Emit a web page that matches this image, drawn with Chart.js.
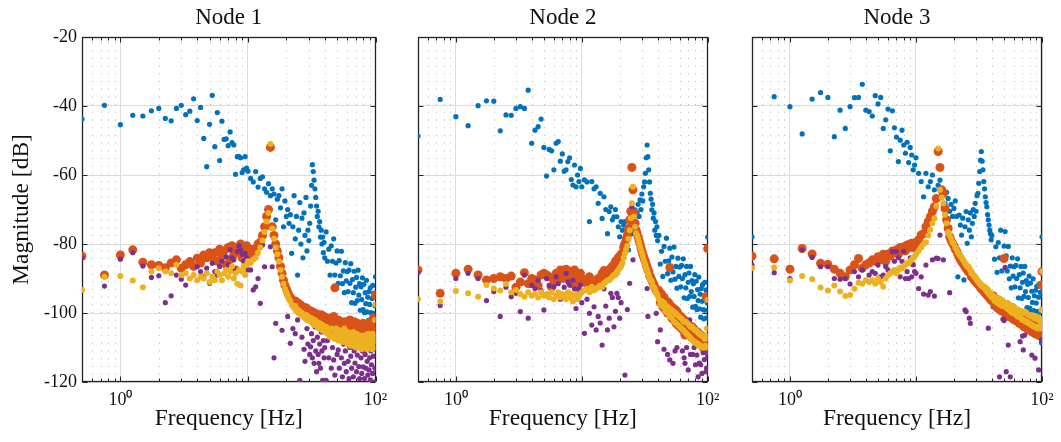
<!DOCTYPE html>
<html>
<head>
<meta charset="utf-8">
<script src="https://cdn.jsdelivr.net/npm/chart.js@4.4.1/dist/chart.umd.min.js"></script>
<style>
  body { margin: 0; background: #fff; }
  #wrap { position: relative; width: 1061px; height: 442px; }
  canvas { position: absolute; top: 0; }
</style>
</head>
<body>
<div id="wrap">
  <canvas id="node1" width="398" height="442" style="left:0px"></canvas>
  <canvas id="node2" width="332" height="442" style="left:398px"></canvas>
  <canvas id="node3" width="331" height="442" style="left:730px"></canvas>
</div>
<script>
// frequencies shared by every series [Hz]
var freq = [
  0.5, 0.75, 1, 1.25, 1.5, 1.75, 2, 2.25, 2.5, 2.75, 3, 3.25, 3.5, 3.75, 4, 4.25, 4.5, 4.75, 5,
  5.25, 5.5, 5.75, 6, 6.25, 6.5, 6.75, 7, 7.25, 7.5, 7.75, 8, 8.25, 8.5, 8.75, 9, 9.25, 9.5, 9.75, 10,
  10.5, 11, 11.5, 12, 12.5, 13, 13.5, 14, 14.5, 15, 15.5, 16, 16.5, 17, 17.5, 18, 18.5, 19, 19.5, 20,
  20.5, 21, 21.5, 22, 22.5, 23, 23.5, 24, 24.5, 25, 25.5, 26, 26.5, 27, 27.5, 28, 28.5, 29, 29.5, 30,
  30.5, 31, 31.5, 32, 32.5, 33, 33.5, 34, 34.5, 35, 35.5, 36, 36.5, 37, 37.5, 38, 38.5, 39, 39.5, 40,
  41, 42, 43, 44, 45, 46, 47, 48, 49, 50, 51, 52, 53, 54, 55, 56, 57, 58, 59, 60,
  61, 62, 63, 64, 65, 66, 67, 68, 69, 70, 71, 72, 73, 74, 75, 76, 77, 78, 79, 80,
  81, 82, 83, 84, 85, 86, 87, 88, 89, 90, 91, 92, 93, 94, 95, 96, 97, 98, 99, 100
];

// Node 1 magnitudes [dB]
var n1Blue = [
  -43.8, -39.8, -45.4, -42.7, -42.9, -41.4, -40.7, -43.6, -44.3, -40.7, -39.8, -42.5, -41.5, -37.9, -44.2, -40.4, -49.4, -57.6, -45.3,
  -36.9, -51.8, -41.9, -55.8, -44.4, -49.7, -49.5, -51.5, -47.5, -50.6, -51.3, -59.8, -54.7, -54.7, -55, -59.3, -58.5, -54.7, -58, -58.9,
  -61, -62, -59, -63.5, -61, -60.5, -64, -65, -62.5, -66, -64, -65.5, -73, -67, -66, -69.5, -64, -75, -67.5, -72,
  -70, -74, -71.5, -82.7, -75, -66, -78.5, -72, -89, -76, -68, -80, -72.5, -84, -71, -77.5, -66.5, -82, -76, -79,
  -74, -69, -63, -57, -59, -61.5, -64, -66.5, -69, -72, -70.5, -75, -73.5, -78, -76, -80, -78, -82.5, -79.5, -84,
  -76.5, -85, -81.5, -89, -80.5, -85, -78.5, -89, -85.5, -82, -91.4, -84.8, -89.2, -82.1, -91.5, -87.8, -94.1, -85.4, -90.7, -88,
  -93.8, -87.6, -91.4, -85.7, -97, -90.3, -94.1, -87.9, -97.2, -92.5, -89.7, -96.4, -87.6, -94.8, -91.5, -99.2, -92.4, -96.1, -89.8, -99,
  -91.7, -99.9, -94.1, -97.3, -90.5, -99.7, -95.4, -102.1, -93.8, -97.5, -92.7, -99.9, -102.6, -95.8, -92, -100.1, -94.2, -102.3, -97.9, -89.5
];
var n1Orange = [
  -83.5, -89.0, -83.2, -81.7, -85.3, -86.0, -86.2, -86.9, -85.5, -84.6, -87.0, -86.0, -85.1, -86.5, -84.1, -85.5, -83.2, -84.0, -82.5,
  -84, -82.5, -85, -81.5, -83.5, -82, -86, -81, -84.5, -80.5, -83, -87.5, -81.5, -82, -80, -84, -81, -83, -80.5, -82,
  -83.5, -81.5, -82.5, -80, -79.5, -77.5, -75, -72, -70, -52, -75, -77.5, -80, -82, -84, -86.5, -88.5, -90.5, -92, -93,
  -94, -95, -95.5, -96, -96.5, -97.5, -96.5, -98, -97, -98.5, -97.5, -99, -98, -99.5, -98.5, -100, -98.5, -100, -99, -100.5,
  -99.5, -101, -99.5, -101, -100, -101.5, -100, -102, -100.5, -101.5, -100.5, -102.5, -101, -102, -100.5, -103, -101.5, -102, -101, -103,
  -102, -104, -101.5, -103.5, -102, -105, -101, -92.7, -103, -105.5, -102, -104, -106, -102.5, -104.5, -103, -106.5, -102.5, -105, -103.5,
  -107, -104, -102, -105.5, -103.5, -107, -104, -102.5, -106, -104, -107.5, -103, -105.5, -104, -108, -103.5, -106, -104.5, -107.5, -103,
  -105.5, -104, -108, -103.5, -106, -104.5, -108, -103, -106.5, -104.5, -108.5, -103.5, -106, -105, -108, -101.5, -106.5, -104, -107.5, -94.8
];
var n1Yellow = [
  -93.3, -89.5, -89.3, -90.6, -92.5, -88.0, -87.0, -88.0, -88.5, -86.0, -89.0, -88.5, -90.0, -89.0, -90.5, -89.5, -90.0, -88.5, -91.0,
  -89.5, -90.5, -88, -89, -90.5, -88.5, -87.5, -89.5, -88, -86.5, -90, -88.5, -91.5, -87.5, -92, -88, -86.5, -89, -86, -85,
  -85.5, -84.5, -84, -82.5, -81, -79, -76.5, -73.5, -71, -51, -75.5, -78.5, -81, -83, -85, -87.5, -89.5, -91.5, -93, -94,
  -95, -96, -96.5, -97.5, -98, -98.5, -98, -99.5, -99, -100, -99.5, -100.5, -100, -101, -100.5, -101.5, -100.5, -102, -101, -102,
  -101.5, -102.5, -101.5, -103, -102, -103.5, -102, -103.5, -102.5, -104, -103, -104.5, -103, -104.5, -103.5, -105, -103.5, -105, -104, -105.5,
  -104, -106, -105, -107, -104.5, -106.5, -105, -107.5, -104.5, -106, -108, -105, -107, -105.5, -108.5, -106, -104.5, -107.5, -106, -109,
  -105.5, -107.5, -106, -109.5, -106.5, -108, -105.5, -109, -107, -110, -106, -108.5, -107, -110, -106.5, -109, -107.5, -110.5, -106.5, -108.5,
  -107, -110, -106.5, -109, -107.5, -110.5, -106, -109, -107.5, -110, -106.5, -109.5, -107, -110.5, -106, -108.5, -107, -110, -102, -97.5
];
var n1Purple = [
  -84.0, -92.2, -84.4, -82.5, -86.4, -89.7, -89.2, -97.0, -95.0, -89.0, -90.2, -91.9, -90.0, -89.0, -86.6, -88.0, -89.5, -87.0, -91.4,
  -85.6, -88, -89, -86.5, -85, -88.5, -83.7, -86, -81.7, -84, -84.6, -87.5, -82.2, -80.5, -81.7, -83, -85, -82.7, -84, -87.5,
  -87.5, -93.3, -92.4, -90, -97.2, -80.3, -86.6, -73.5, -71, -80.8, -86.6, -113, -103, -83, -85, -87.5, -105, -91.5, -93, -94,
  -101, -96, -108.8, -97.5, -104.5, -98.5, -106, -99.5, -102, -100, -119.5, -100.5, -107, -101, -110.5, -114, -100.5, -104.5, -109, -102,
  -112, -109.8, -106, -113, -108, -114.6, -104, -111, -117, -107, -112, -114.6, -109, -116, -105.5, -111, -119.5, -108, -113, -110,
  -119.5, -108, -113, -106.5, -116, -110, -113.6, -118, -107.5, -112, -110.7, -116, -105, -113, -118.5, -109, -114.6, -111, -117, -106.5,
  -114, -119, -110, -112.5, -116, -108, -118.5, -111, -114.5, -107.5, -117, -112.2, -110, -115.5, -119, -109, -113, -117.5, -111, -115.6,
  -108.5, -119, -112, -116, -110.5, -114, -118, -109.5, -116.5, -113, -119.4, -111, -115, -108, -117.5, -112.5, -120, -110.5, -116, -120
];

// Node 2 magnitudes [dB]
var n2Blue = [
  -48.7, -38.1, -43.1, -45.7, -39.9, -38.5, -38.6, -47.2, -42.6, -42.7, -40.7, -40.2, -40.7, -35.4, -50.8, -47.0, -46.0, -43.8, -52.0,
  -60.3, -52.6, -53, -58.5, -50.8, -50.3, -56, -53.9, -58.9, -58.5, -56.1, -55, -61.3, -62.9, -57.1, -63.4, -60, -61.9, -58.1, -63.4,
  -61.4, -62, -73.5, -61.9, -64, -63.4, -68.2, -65.3, -72.6, -66.3, -70, -77, -70.6, -69.2, -73, -72.1, -70, -72.1, -75, -77.9,
  -73.5, -76, -74.5, -73.5, -78, -76, -81.7, -75, -72, -77, -74, -72.5, -70.1, -75.5, -71, -68.5, -72, -67.2, -70, -65.5,
  -67.5, -63.4, -62, -59.5, -55, -51.3, -54.7, -58.5, -62, -65.3, -67, -70.1, -68.5, -72.5, -71, -76, -73.5, -77.5, -75, -79,
  -77.5, -85.8, -82.1, -89.4, -80.7, -85, -78.3, -88.6, -84.9, -81.2, -90.5, -83.8, -88.1, -80.9, -90.2, -86.5, -92.8, -84.1, -89.4, -86.7,
  -92.4, -86.2, -90, -84.3, -95.6, -88.9, -92.7, -86.5, -95.8, -91.1, -88.4, -95.2, -86.5, -93.8, -90.6, -98.3, -91.5, -95.2, -88.9, -98.1,
  -90.8, -99, -93.2, -96.4, -89.6, -98.8, -94.5, -101.2, -92.9, -96.6, -91.8, -99, -101.7, -94.9, -91.1, -99.2, -93.3, -101.4, -97, -78
];
var n2Orange = [
  -87.5, -94.3, -88.5, -87.3, -89.0, -90.4, -90.0, -89.5, -90.0, -89.3, -92.5, -91.0, -88.3, -91.5, -90.0, -90.4, -92.0, -89.0, -88.5,
  -89, -89.5, -92.5, -91, -88.5, -90, -87.5, -90, -88.5, -87.3, -89.5, -88, -91.5, -89.5, -87.5, -89, -92, -90.5, -88.5, -90,
  -91, -91.5, -89.5, -90.9, -92, -91.5, -90, -91.5, -88.5, -87.7, -89.5, -89, -87.5, -87, -86.5, -86, -85, -84.6, -84, -83.5,
  -83, -82.7, -81, -79.8, -78.5, -77.5, -75.5, -73, -70.5, -57.8, -64.3, -71, -74, -76, -77, -78, -79, -79.8, -81, -82,
  -83, -83.7, -84.5, -85, -86, -86.6, -87.5, -88, -89, -89.5, -90, -90.5, -91, -91.5, -92, -92.5, -93, -93.3, -93.5, -94,
  -93.5, -97, -94.5, -98.2, -95.5, -99, -96.5, -100, -97, -86.8, -98, -101.5, -98.5, -102, -99, -103, -99.5, -103.5, -100.5, -104,
  -101, -104.5, -101.5, -105, -102, -106.4, -102.5, -105.5, -103, -106, -103.5, -106.5, -104, -107, -104, -107, -104.5, -107.5, -105, -108,
  -105.5, -108, -105.5, -108.5, -106, -108.8, -106.5, -109, -106.5, -109.5, -107, -110, -107.5, -110, -107.5, -110.5, -95.3, -110.8, -108, -81.3
];
var n2Yellow = [
  -96.0, -96.7, -93.6, -94.3, -95.3, -91.9, -92.9, -93.5, -91.6, -94.0, -93.3, -94.5, -95.3, -94.0, -95.0, -94.5, -95.5, -94.0, -95.0,
  -94.5, -95.5, -94, -96, -95, -94, -95.5, -94.5, -95, -96, -94, -95.5, -94.5, -96.7, -95, -94.5, -96, -95, -94.5, -94,
  -93.5, -93, -94, -92.4, -93.5, -93, -92.5, -92, -92.5, -91.4, -91, -90.5, -90.5, -90, -89.5, -89, -89, -88.5, -87.5, -87,
  -86.5, -85.6, -84, -82.7, -81.5, -80.5, -78.5, -76, -72.5, -68.2, -63.4, -72, -75, -76.9, -77.5, -78.5, -79.5, -80.8, -81.5, -82.5,
  -83.5, -84.6, -85.5, -86, -87, -87.5, -88.5, -89, -90, -90.4, -90.5, -91, -92, -92.5, -92.5, -93, -94, -94.3, -94.5, -95,
  -96, -97.5, -96.5, -98.2, -97, -99.5, -98, -100, -98.5, -101, -99, -101.5, -99.5, -102.5, -100, -103, -100.5, -103.5, -101, -104,
  -101.5, -104.5, -102, -105, -102.5, -105.5, -102.5, -106, -103, -106.5, -103.5, -107, -104, -107.5, -104, -108, -104.5, -108.5, -105, -108.5,
  -105, -109, -105.5, -109, -106, -109.5, -106, -109.5, -106.5, -110, -106.5, -110, -107, -110, -107.5, -109.5, -106.5, -110, -104.5, -96.2
];
var n2Purple = [
  -88.3, -97.8, -90.0, -88.5, -90.0, -96.4, -93.8, -101.0, -92.5, -95.3, -94.3, -99.6, -89.0, -101.5, -92.0, -92.9, -90.5, -93.5, -99.1,
  -90, -92, -94, -92.4, -89.5, -91.5, -96, -95.3, -92.5, -88.5, -91, -91.9, -95, -90.5, -93, -98.7, -94, -93, -91.9, -97,
  -105.9, -96, -100.1, -103.5, -98.2, -104.9, -101, -102.9, -109.3, -93, -98, -104.9, -101.5, -94.3, -95.5, -104, -99.5, -94.3, -95.5, -101.5,
  -97, -85.6, -84, -118, -81.5, -99, -78.5, -91.4, -72.5, -69.2, -84.6, -72, -75, -76.9, -77.5, -78.5, -79.5, -80.8, -81.5, -82.5,
  -83.5, -84.6, -85.5, -86, -87, -92.9, -101, -89, -90, -90.4, -90.5, -91, -92, -92.5, -92.5, -93, -94, -100.1, -94.5, -108.3,
  -96, -104.9, -96.5, -98.2, -110.5, -99.5, -98, -112, -98.5, -113.6, -99, -101.5, -114.6, -102.5, -111, -103, -110, -103.5, -101, -104,
  -102, -104.5, -111, -105, -113, -114.6, -102.5, -110, -103, -116.5, -103.5, -102, -112, -107.5, -104, -112, -104.5, -110, -105, -115,
  -105, -112.2, -105.5, -118.5, -106, -114.5, -106, -115, -106.5, -117.5, -106.5, -111.5, -107, -113.5, -107.5, -111, -117, -116, -104.5, -112.5
];

// Node 3 magnitudes [dB]
var n3Blue = [
  -77.9, -37.3, -40.2, -48.1, -38.0, -36.1, -37.5, -48.9, -41.2, -46.5, -40.2, -37.6, -37.5, -33.7, -41.2, -41.6, -42.9, -37.0, -39.4,
  -37.5, -46.5, -44, -40.9, -53, -41.4, -46.3, -49, -56.1, -49.9, -47, -51.3, -53.7, -50.5, -56.4, -52, -54.2, -58.5, -57.1, -55,
  -59.5, -61.9, -66.3, -59.5, -63.4, -61.9, -60, -64.3, -67, -63, -61.5, -65.8, -69, -68.2, -65, -66.8, -70.5, -68.5, -72, -69.7,
  -67.5, -72, -89.5, -71.6, -74.5, -77.4, -72.5, -90.4, -75, -70.6, -79.8, -73, -76, -71, -77.9, -74, -70, -72, -68.2, -70.5,
  -66, -65.3, -62.4, -59, -55.7, -53.2, -56, -58.5, -61.9, -64, -66.3, -68, -69.2, -71.5, -73, -74.5, -76, -77, -78.8, -77.5,
  -98.2, -84.4, -80.8, -88.2, -79.6, -84, -76, -87.8, -84.2, -80.6, -76.4, -83.4, -87.8, -80.7, -90.1, -86.4, -92.7, -84, -89.3, -86.6,
  -92.4, -86.2, -90, -84.3, -95.6, -88.9, -92.7, -86.5, -95.8, -91.1, -88.4, -95.2, -86.5, -93.8, -90.6, -98.4, -91.7, -95.5, -89.3, -98.6,
  -91.3, -99.5, -93.7, -96.9, -90.1, -99.3, -95, -101.7, -93.4, -97.1, -92.3, -99.5, -102.2, -95.4, -91.6, -99.8, -94, -102.2, -108.6, -77.9
];
var n3Orange = [
  -83.5, -84.3, -87.3, -81.3, -82.9, -85.6, -85.9, -87.3, -88.5, -89.5, -87.5, -86.0, -84.2, -87.0, -86.0, -85.5, -84.6, -85.0, -83.7,
  -84.5, -83, -85, -82.9, -83.5, -82, -82.5, -81.7, -83, -81, -81.5, -80.8, -82, -80.3, -81, -80, -79.8, -81, -80, -79.5,
  -78.8, -77.4, -77, -75, -73.5, -72.1, -70.5, -69.2, -66.8, -53.2, -57.8, -64.3, -65.3, -69.7, -73, -75.5, -77.9, -79, -79.8, -80.5,
  -81.5, -82, -83, -83.7, -84.5, -85, -85.5, -86, -86.6, -87, -87.5, -88, -88, -88.5, -89.5, -89.5, -90, -90.5, -90.5, -91,
  -91.4, -91.5, -92, -92, -92.5, -93, -93, -93.5, -93.5, -94, -93.3, -94.5, -94, -95, -94.5, -95.5, -95, -96, -95.3, -96.5,
  -95, -97.5, -96, -98.5, -96.5, -99, -97, -99.5, -97.5, -84.2, -98, -100.5, -98, -101, -98.5, -101, -99, -101.5, -99, -102,
  -99.5, -102, -100, -102.5, -100, -103, -100.5, -103, -101, -103.5, -101, -104, -101.5, -104, -101.5, -104.5, -102, -104.5, -102, -105,
  -102.5, -105, -102.5, -105.5, -103, -105.5, -103, -106, -103.5, -106, -103.5, -106, -104, -106.5, -104, -106.5, -103, -105.5, -91.9, -88
];
var n3Yellow = [
  -87.0, -86.8, -90.6, -89.3, -90.2, -92.6, -93.5, -92.0, -93.8, -95.1, -94.8, -93.0, -91.2, -91.5, -90.5, -91.0, -90.5, -91.5, -90.0,
  -91, -92.4, -90, -89, -88.5, -88, -87.5, -88.5, -87.5, -86.8, -87, -86.5, -86, -85.5, -85.6, -85, -84.5, -84, -83.7, -83,
  -82, -81, -80, -79.5, -77.5, -75.9, -74, -72.6, -69, -52.3, -64.3, -66.5, -68.2, -71.5, -74, -76.5, -77.5, -78.5, -79.5, -80,
  -81, -81.5, -82.5, -83, -83.5, -84, -84.5, -85, -85.6, -86, -86.5, -86.5, -87, -87.5, -88.5, -88.5, -89, -89.5, -89.5, -90,
  -90.5, -90.9, -91, -91.5, -91.5, -92, -92, -92.5, -92.5, -92.4, -93, -93.5, -93, -94, -93.5, -94.5, -94, -95, -94.3, -95.5,
  -95, -96.5, -95.5, -97, -95.7, -97.5, -96, -98, -96.5, -98, -97.2, -98.5, -97, -99, -97.5, -99.5, -98.2, -100, -98, -100,
  -98.5, -100.5, -99, -101, -99.1, -101, -99.5, -101.5, -99.5, -102, -100, -102, -99.6, -102.5, -100, -102.5, -100.5, -103, -100.5, -103,
  -101, -103.5, -100.6, -103.5, -101, -104, -101.5, -104, -101.5, -104, -101, -104.5, -102, -104, -101.5, -104.5, -102, -103.5, -99.1, -88
];
var n3Purple = [
  -86.1, -88.3, -90.0, -81.7, -83.9, -86.6, -86.6, -90.0, -90.2, -90.0, -91.6, -88.0, -89.5, -87.5, -90.5, -89.0, -88.0, -88.5, -86.1,
  -89.5, -89, -86.5, -87.5, -88.5, -82.2, -85, -82.2, -84, -89.5, -85, -82.2, -90, -88, -90, -84, -89.5, -86, -88, -88.5,
  -92.9, -89.5, -94.5, -86.1, -94.8, -93.8, -84.6, -95.1, -84.1, -84.2, -77.4, -66.5, -84.6, -71.5, -74, -76.5, -94.1, -78.5, -79.5, -80,
  -81, -81.5, -82.5, -83, -83.5, -84, -84.5, -85, -99.1, -99.6, -86.5, -86.5, -101.5, -103, -88.5, -88.5, -89, -89.5, -89.5, -90,
  -90.5, -90.9, -91, -91.5, -91.5, -92, -92, -92.5, -92.5, -92.4, -93, -93.5, -93, -94, -104.4, -94.5, -94, -95, -94.3, -95.5,
  -95, -96.5, -95.5, -97, -95.7, -118.5, -96, -98, -101.8, -102.2, -86.8, -117, -97, -109.3, -97.5, -118.5, -98.2, -100, -98, -100,
  -98.5, -100.5, -99, -101, -99.1, -101, -108.3, -101.5, -99.5, -106.7, -110.7, -102, -106.4, -102.5, -100, -102.5, -100.5, -103, -100.5, -103,
  -101, -103.5, -112.2, -103.5, -101, -104, -101.5, -113.1, -101.5, -104, -101, -104.5, -102, -116.5, -101.5, -104.5, -102, -103.5, -107.8, -107.8
];

// axis ticks
var xMajor = [1, 10, 100];
var xMinor = [0.6, 0.7, 0.8, 0.9, 2, 3, 4, 5, 6, 7, 8, 9, 20, 30, 40, 50, 60, 70, 80, 90];
var yMajor = [-120, -100, -80, -60, -40, -20];

var serif = "'Liberation Serif', 'Times New Roman', serif";

// MATLAB-like box, inward ticks and dotted minor grid
var axesFrame = {
  id: 'axesFrame',
  beforeDatasetsDraw: function (chart) {
    var ctx = chart.ctx;
    var a = chart.chartArea;
    var xs = chart.scales.x;
    var ys = chart.scales.y;
    var left = Math.round(a.left) + 0.5;
    var right = Math.round(a.right) - 0.5;
    var top = Math.round(a.top) + 0.5;
    var bottom = Math.round(a.bottom) - 0.5;

    ctx.save();
    ctx.strokeStyle = '#b5b5b5';
    ctx.lineWidth = 1;
    ctx.setLineDash([1, 6.7]);
    ctx.lineDashOffset = -5;
    xMinor.forEach(function (v) {
      var px = Math.round(xs.getPixelForValue(v)) + 0.5;
      ctx.beginPath();
      ctx.moveTo(px, top);
      ctx.lineTo(px, bottom);
      ctx.stroke();
    });
    ctx.setLineDash([]);

    ctx.strokeStyle = '#222';
    ctx.lineWidth = 1;
    ctx.beginPath();
    xMinor.concat(xMajor).forEach(function (v) {
      var px = Math.round(xs.getPixelForValue(v)) + 0.5;
      var len = xMajor.indexOf(v) >= 0 ? 5 : 3;
      ctx.moveTo(px, bottom);
      ctx.lineTo(px, bottom - len);
      ctx.moveTo(px, top);
      ctx.lineTo(px, top + len);
    });
    yMajor.forEach(function (v) {
      var py = Math.round(ys.getPixelForValue(v)) + 0.5;
      ctx.moveTo(left, py);
      ctx.lineTo(left + 5, py);
      ctx.moveTo(right, py);
      ctx.lineTo(right - 5, py);
    });
    ctx.stroke();

    ctx.lineWidth = 1.3;
    ctx.strokeRect(left, top, right - left, bottom - top);
    ctx.restore();
  }
};

function pontos(mag) {
  return freq.map(function (f, i) {
    return { x: f, y: mag[i] };
  });
}

function desenha(id, titulo, blue, orange, yellow, purple, padLeft, padRight, showY) {
  new Chart(document.getElementById(id), {
    type: 'scatter',
    data: {
      datasets: [
        { data: pontos(yellow), backgroundColor: '#EDB120', pointRadius: 3, order: 1 },
        { data: pontos(purple), backgroundColor: '#7E2F8E', pointRadius: 2.6, order: 2 },
        { data: pontos(orange), backgroundColor: '#D95319', pointRadius: 4.5, order: 3 },
        { data: pontos(blue), backgroundColor: '#0072BD', pointRadius: 2.6, order: 4 }
      ]
    },
    options: {
      responsive: false,
      animation: false,
      devicePixelRatio: 1,
      events: [],
      layout: { padding: { left: padLeft, right: padRight, top: 0, bottom: 0 } },
      elements: { point: { borderWidth: 0 } },
      plugins: {
        legend: { display: false },
        tooltip: { enabled: false },
        title: {
          display: true,
          text: titulo,
          fullSize: false,
          color: '#111',
          font: { family: serif, size: 23, weight: 'normal' },
          padding: { top: 4.1, bottom: 5.3 }
        }
      },
      scales: {
        x: {
          type: 'logarithmic',
          min: 0.5,
          max: 100,
          afterBuildTicks: function (s) {
            s.ticks = xMajor.map(function (v) { return { value: v }; });
          },
          afterFit: function (s) { s.height = 60; },
          grid: { color: '#dcdcdc', drawTicks: false },
          border: { display: false },
          ticks: {
            autoSkip: false,
            maxRotation: 0,
            padding: 7,
            color: '#111',
            font: { family: serif, size: 18 },
            callback: function (v) {
              if (v === 1) return '10\u2070';
              if (v === 100) return '10\u00b2';
              return '';
            }
          },
          title: {
            display: true,
            text: 'Frequency [Hz]',
            color: '#111',
            font: { family: serif, size: 23.5 },
            padding: { top: 0, bottom: 9.1 }
          }
        },
        y: {
          min: -120,
          max: -20,
          afterFit: function (s) { s.width = showY ? 82 : 0; },
          grid: { color: '#dcdcdc', drawTicks: false },
          border: { display: false },
          ticks: {
            display: showY,
            stepSize: 20,
            padding: 5,
            color: '#111',
            font: { family: serif, size: 18 }
          },
          title: {
            display: showY,
            text: 'Magnitude [dB]',
            color: '#111',
            font: { family: serif, size: 23.5 },
            padding: { top: 7.3, bottom: 0 }
          }
        }
      }
    },
    plugins: [axesFrame]
  });
}

desenha('node1', 'Node 1', n1Blue, n1Orange, n1Yellow, n1Purple, 0, 22.5, true);
desenha('node2', 'Node 2', n2Blue, n2Orange, n2Yellow, n2Purple, 20, 22.3, false);
desenha('node3', 'Node 3', n3Blue, n3Orange, n3Yellow, n3Purple, 22, 19, false);
</script>
</body>
</html>
